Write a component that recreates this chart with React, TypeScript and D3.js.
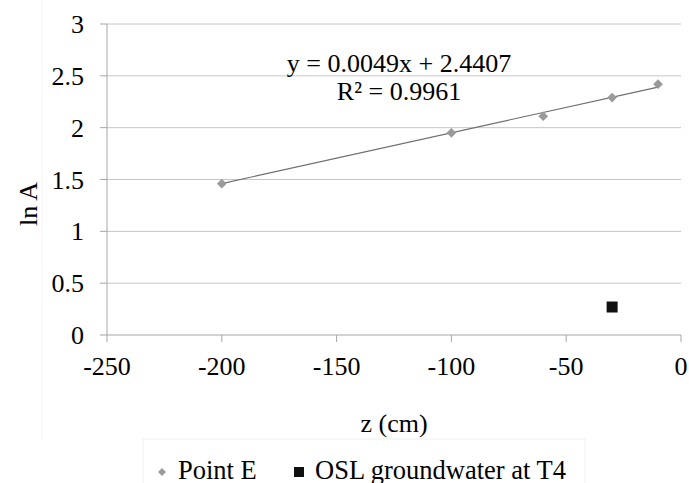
import React from "react";
import * as d3 from "d3";

// Depth (cm) and ln A values for Point E
const pointEDepth = [-200, -100, -60, -30, -10];
const pointELnA = [1.46, 1.95, 2.11, 2.29, 2.42];

// OSL groundwater measurement at T4
const oslDepth = [-30];
const oslLnA = [0.27];

// Linear trend fitted to Point E
const trendSlope = 0.0049;
const trendIntercept = 2.4407;
const trendR2 = 0.9961;

const xTicks = [-250, -200, -150, -100, -50, 0];
const yTicks = [0, 0.5, 1, 1.5, 2, 2.5, 3];
const xTickLabels = ["-250", "-200", "-150", "-100", "-50", "0"];
const yTickLabels = ["0", "0.5", "1", "1.5", "2", "2.5", "3"];

const seriesNames = ["Point E", "OSL groundwater at T4"];

const W = 689;
const H = 483;
const FONT = "Liberation Serif, DejaVu Serif, serif";
const txt = { fontFamily: FONT, fontSize: 26 } as React.CSSProperties;
const legendTxt = { fontFamily: FONT, fontSize: 26.5 } as React.CSSProperties;

export default function App() {
  const x = d3.scaleLinear().domain([-250, 0]).range([107, 681]);
  const y = d3.scaleLinear().domain([0, 3]).range([335, 24]);

  const trendX = [d3.min(pointEDepth)!, d3.max(pointEDepth)!];
  const line = d3
    .line<number>()
    .x((d) => x(d))
    .y((d) => y(trendSlope * d + trendIntercept));

  const diamond = d3.symbol(d3.symbolDiamond2, 60)()!;
  const eqX = 399;

  return (
    <svg
      width={W}
      height={H}
      style={{ position: "absolute", left: 0, top: 0, background: "#fff", fontFamily: FONT }}
    >
      <rect x={0} y={0} width={W} height={H} fill="#fff" />
      {/* faint chart border */}
      <line x1={42} x2={42} y1={0} y2={440} stroke="#f7f7f7" />

      {/* horizontal gridlines */}
      {yTicks.map((t) =>
        t === 0 ? null : (
          <line key={"g" + t} x1={x(-250)} x2={x(0)} y1={y(t)} y2={y(t)} stroke="#c6c6c6" strokeWidth={1} />
        )
      )}

      {/* y axis */}
      <line x1={x(-250)} x2={x(-250)} y1={y(3)} y2={y(0)} stroke="#a6a6a6" />
      {yTicks.map((t, i) => (
        <g key={"yt" + t}>
          <line x1={x(-250) - 7} x2={x(-250)} y1={y(t)} y2={y(t)} stroke="#a6a6a6" />
          <text x={84} y={y(t)} dy="0.35em" textAnchor="end" style={txt} fill="#000">
            {yTickLabels[i]}
          </text>
        </g>
      ))}

      {/* x axis */}
      <line x1={x(-250)} x2={x(0)} y1={y(0)} y2={y(0)} stroke="#a6a6a6" />
      {xTicks.map((t, i) => (
        <g key={"xt" + t}>
          <line x1={x(t)} x2={x(t)} y1={y(0)} y2={y(0) + 7} stroke="#a6a6a6" />
          <text x={x(t)} y={375} textAnchor="middle" style={txt} fill="#000">
            {xTickLabels[i]}
          </text>
        </g>
      ))}

      {/* axis titles */}
      <text x={x(-125)} y={432} textAnchor="middle" style={txt} fill="#000">
        z (cm)
      </text>
      <text transform={`translate(37,204) rotate(-90)`} textAnchor="middle" style={txt} fill="#000">
        ln A
      </text>

      {/* trendline */}
      <path d={line(trendX) ?? ""} fill="none" stroke="#6e6e6e" strokeWidth={1.2} />

      {/* Point E markers */}
      {pointEDepth.map((d, i) => (
        <path
          key={"pe" + i}
          d={diamond}
          transform={`translate(${x(d)},${y(pointELnA[i])})`}
          fill="#9a9a9a"
        />
      ))}

      {/* OSL markers */}
      {oslDepth.map((d, i) => (
        <rect
          key={"osl" + i}
          x={x(d) - 5.5}
          y={y(oslLnA[i]) - 5.5}
          width={11}
          height={11}
          fill="#111"
        />
      ))}

      {/* trend equation */}
      <text x={eqX} y={72} textAnchor="middle" style={txt} fill="#000">
        {`y = ${trendSlope}x + ${trendIntercept}`}
      </text>
      <text x={eqX} y={100} textAnchor="middle" style={txt} fill="#000">
        {`R² = ${trendR2}`}
      </text>

      {/* legend */}
      <rect x={143} y={439} width={442} height={60} fill="#fff" stroke="#f0f0f0" />
      <path d={d3.symbol(d3.symbolDiamond2, 40)()!} transform="translate(162,472)" fill="#9a9a9a" />
      <text x={178} y={479} style={legendTxt} fill="#000">
        {seriesNames[0]}
      </text>
      <rect x={294} y={467} width={10} height={10} fill="#111" />
      <text x={315} y={479} style={legendTxt} fill="#000">
        {seriesNames[1]}
      </text>
    </svg>
  );
}
